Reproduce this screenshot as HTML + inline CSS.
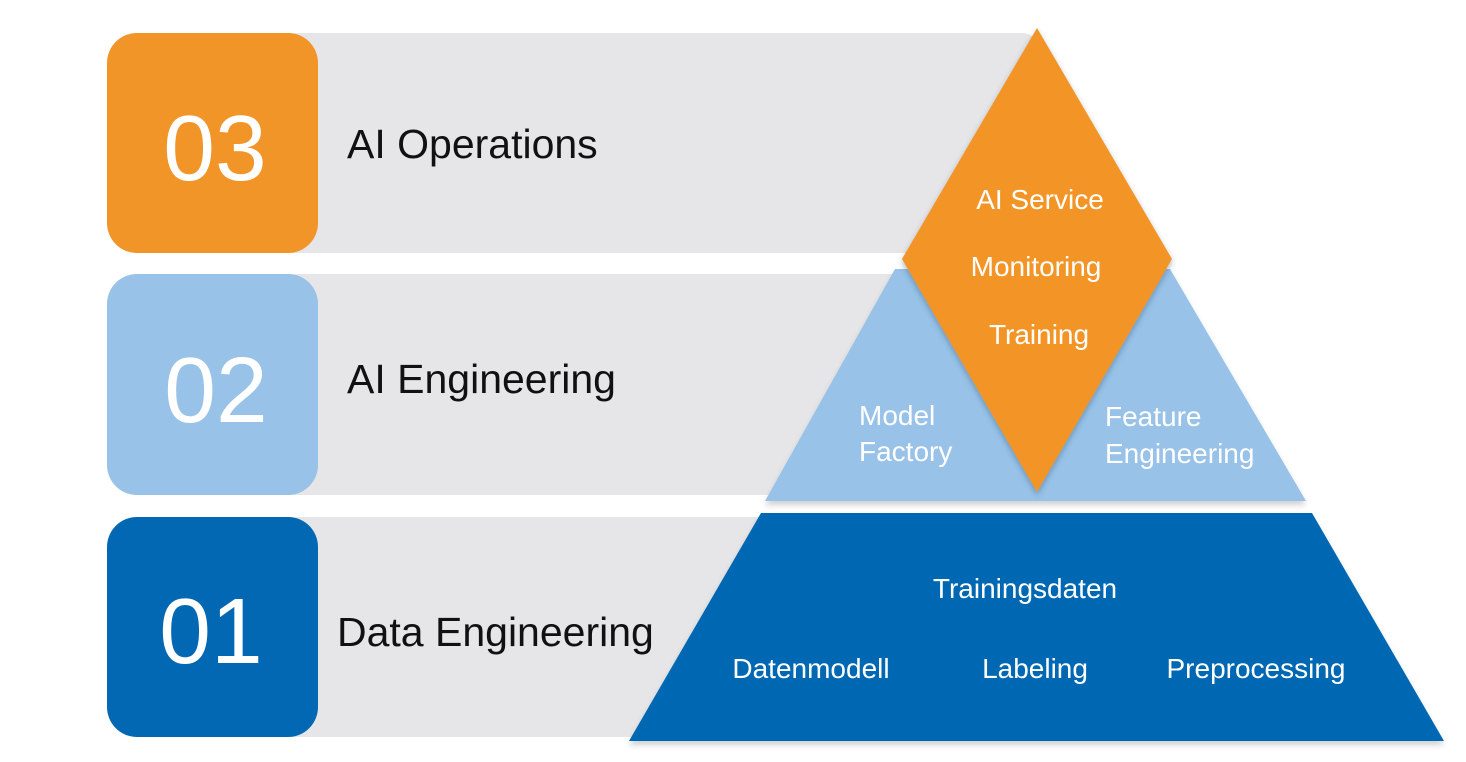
<!DOCTYPE html>
<html>
<head>
<meta charset="utf-8">
<style>
  html, body { margin:0; padding:0; background:#ffffff; }
  body { width:1466px; height:762px; overflow:hidden; }
  svg { display:block; }
  text { font-family: "Liberation Sans", "DejaVu Sans", sans-serif; }
</style>
</head>
<body>
<svg width="1466" height="762" viewBox="0 0 1466 762" xmlns="http://www.w3.org/2000/svg">
  <defs>
    <filter id="sh" x="-10%" y="-10%" width="120%" height="130%">
      <feDropShadow dx="0" dy="4" stdDeviation="3" flood-color="#000" flood-opacity="0.18"/>
    </filter>
    <filter id="shd" x="-20%" y="-10%" width="140%" height="130%">
      <feDropShadow dx="0" dy="3" stdDeviation="3" flood-color="#1a3a5a" flood-opacity="0.35"/>
    </filter>
  </defs>

  <!-- gray rows -->
  <rect x="200" y="33" width="840" height="220" rx="18" fill="#E6E6E8"/>
  <rect x="200" y="274" width="720" height="221" fill="#E6E6E8"/>
  <rect x="200" y="517" width="600" height="220" fill="#E6E6E8"/>

  <!-- number boxes -->
  <rect x="107" y="33" width="211" height="220" rx="30" fill="#F29528"/>
  <rect x="107" y="274" width="211" height="221" rx="30" fill="#98C2E8"/>
  <rect x="107" y="517" width="211" height="220" rx="30" fill="#0368B3"/>

  <text x="215" y="180" font-size="93" fill="#ffffff" text-anchor="middle">03</text>
  <text x="216" y="422" font-size="93" fill="#ffffff" text-anchor="middle">02</text>
  <text x="211" y="663" font-size="93" fill="#ffffff" text-anchor="middle">01</text>

  <text x="347" y="158" font-size="41" fill="#111111">AI Operations</text>
  <text x="347" y="393" font-size="41" fill="#111111">AI Engineering</text>
  <text x="337" y="646" font-size="41" fill="#111111">Data Engineering</text>

  <!-- dark blue trapezoid -->
  <polygon points="761,513 1312,513 1444,741 629,741" fill="#0368B3" filter="url(#sh)"/>

  <!-- light blue trapezoid -->
  <polygon points="895,269 1170,269 1306,501 765,501" fill="#98C2E8" filter="url(#sh)"/>

  <!-- orange diamond -->
  <polygon points="1037,28 1172,259 1037,492 902,259" fill="#F29528" filter="url(#shd)"/>

  <!-- diamond labels -->
  <text x="1040" y="209" font-size="28" fill="#ffffff" text-anchor="middle">AI Service</text>
  <text x="1036" y="276" font-size="28" fill="#ffffff" text-anchor="middle">Monitoring</text>
  <text x="1039" y="344" font-size="28" fill="#ffffff" text-anchor="middle">Training</text>

  <!-- light blue labels -->
  <text x="859" y="425" font-size="28" fill="#ffffff">Model</text>
  <text x="859" y="461" font-size="28" fill="#ffffff">Factory</text>
  <text x="1105" y="426" font-size="28" fill="#ffffff">Feature</text>
  <text x="1105" y="463" font-size="28" fill="#ffffff">Engineering</text>

  <!-- dark blue labels -->
  <text x="1025" y="598" font-size="28" fill="#ffffff" text-anchor="middle">Trainingsdaten</text>
  <text x="811" y="678" font-size="28" fill="#ffffff" text-anchor="middle">Datenmodell</text>
  <text x="1035" y="678" font-size="28" fill="#ffffff" text-anchor="middle">Labeling</text>
  <text x="1256" y="678" font-size="28" fill="#ffffff" text-anchor="middle">Preprocessing</text>
</svg>
</body>
</html>
